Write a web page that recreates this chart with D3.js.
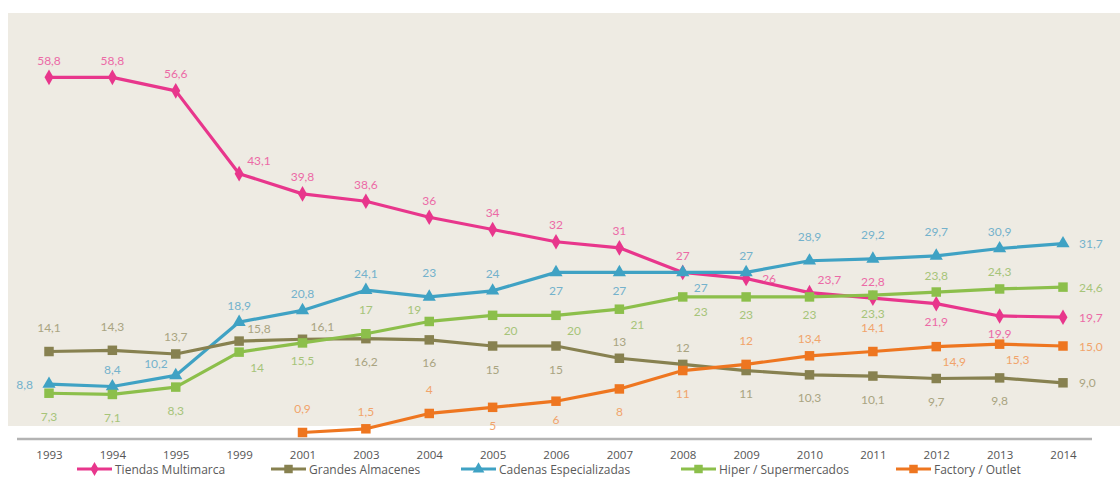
<!DOCTYPE html>
<html>
<head>
<meta charset="utf-8">
<script src="https://cdn.jsdelivr.net/npm/d3@7/dist/d3.min.js"></script>
<style>
  html, body { margin: 0; padding: 0; background: #fff; }
  svg { display: block; }
</style>
</head>
<body>
<svg id="chart" width="1120" height="477"></svg>
<script>
// Years on the horizontal axis
const years = ["1993","1994","1995","1999","2001","2003","2004","2005","2006","2007","2008","2009","2010","2011","2012","2013","2014"];

// Market share (%) by channel
const tiendasMultimarca   = [58.8, 58.8, 56.6, 43.1, 39.8, 38.6, 36, 34, 32, 31, 27, 26, 23.7, 22.8, 21.9, 19.9, 19.7];
const grandesAlmacenes    = [14.1, 14.3, 13.7, 15.8, 16.1, 16.2, 16, 15, 15, 13, 12, 11, 10.3, 10.1, 9.7, 9.8, 9.0];
const cadenasEspecial     = [8.8, 8.4, 10.2, 18.9, 20.8, 24.1, 23, 24, 27, 27, 27, 27, 28.9, 29.2, 29.7, 30.9, 31.7];
const hiperSupermercados  = [7.3, 7.1, 8.3, 14, 15.5, 17, 19, 20, 20, 21, 23, 23, 23, 23.3, 23.8, 24.3, 24.6];
const factoryOutlet       = [null, null, null, null, 0.9, 1.5, 4, 5, 6, 8, 11, 12, 13.4, 14.1, 14.9, 15.3, 15.0];

const seriesNames = ["Tiendas Multimarca", "Grandes Almacenes", "Cadenas Especializadas", "Hiper / Supermercados", "Factory / Outlet"];

// Where each value label sits relative to its point
const labelSides = {
  "Tiendas Multimarca":     ["t","t","t","tr","t","t","t","t","t","t","t","r","tr","t","b","b","r"],
  "Grandes Almacenes":      ["T","T","t","tr","tr","B","B","B","B","t","t","B","B","B","B","B","r"],
  "Cadenas Especializadas": ["l","t","tl","t","t","t","T","t","b","b","br","t","T","T","T","t","r"],
  "Hiper / Supermercados":  ["B","B","B","br","b","T","tl","br","br","br","br","b","b","b","t","t","r"],
  "Factory / Outlet":       [null,null,null,null,"T","t","T","b","b","B","B","T","t","T","br","br","r"]
};

const valuesByName = {
  "Tiendas Multimarca": tiendasMultimarca,
  "Grandes Almacenes": grandesAlmacenes,
  "Cadenas Especializadas": cadenasEspecial,
  "Hiper / Supermercados": hiperSupermercados,
  "Factory / Outlet": factoryOutlet
};

const styles = {
  "Tiendas Multimarca":     { line: "#e8368c", label: "#ec6aa6", symbol: d3.symbolDiamond, size: 70 },
  "Grandes Almacenes":      { line: "#878150", label: "#a9a481", symbol: d3.symbolSquare,  size: 90 },
  "Cadenas Especializadas": { line: "#3fa2c4", label: "#74b2cc", symbol: d3.symbolTriangle, size: 75 },
  "Hiper / Supermercados":  { line: "#8cbf4b", label: "#a6c479", symbol: d3.symbolSquare,  size: 90 },
  "Factory / Outlet":       { line: "#ee7620", label: "#f1a46b", symbol: d3.symbolSquare,  size: 90 }
};

// Drawing order (later on top)
const drawOrder = ["Tiendas Multimarca", "Cadenas Especializadas", "Grandes Almacenes", "Hiper / Supermercados", "Factory / Outlet"];

const svg = d3.select("#chart");
const W = 1120, H = 477;

// Plot background
svg.append("rect").attr("x", 0).attr("y", 0).attr("width", W).attr("height", H).attr("fill", "#ffffff");
svg.append("rect").attr("x", 8).attr("y", 13).attr("width", W - 8).attr("height", 413).attr("fill", "#eeebe3");

const x = d3.scalePoint().domain(years).range([49, 1063]);
const y = d3.scaleLinear().domain([0, 60]).range([438, 70]);

// Baseline
svg.append("line")
  .attr("x1", 17).attr("x2", 1092)
  .attr("y1", 439).attr("y2", 439)
  .attr("stroke", "#b3b3b3").attr("stroke-width", 2.5);

// Year labels
const xAxis = d3.axisBottom(x).tickSize(0).tickPadding(0);
const gx = svg.append("g").attr("transform", "translate(0,451)").call(xAxis);
gx.select(".domain").remove();
gx.selectAll("text")
  .attr("font-family", "'Open Sans', Lato, sans-serif")
  .attr("font-size", 11.5)
  .attr("fill", "#555555");

const fmtNum = (v, isLast) => {
  const s = (isLast || !Number.isInteger(v)) ? d3.format(".1f")(v) : String(v);
  return s.replace(".", ",");
};

const offsets = {
  t:  { dx: 0,   dy: -17, anchor: "middle" },
  T:  { dx: 0,   dy: -24, anchor: "middle" },
  b:  { dx: 0,   dy: 18,  anchor: "middle" },
  B:  { dx: 0,   dy: 23,  anchor: "middle" },
  r:  { dx: 16,  dy: 0,   anchor: "start" },
  l:  { dx: -16, dy: 0,   anchor: "end" },
  tr: { dx: 8,   dy: -13, anchor: "start" },
  tl: { dx: -8,  dy: -12, anchor: "end" },
  br: { dx: 18,  dy: 15,  anchor: "middle" }
};

const line = d3.line()
  .defined(d => d.v != null)
  .x(d => x(d.year))
  .y(d => y(d.v));

const labelLayer = svg.append("g");
const markLayer = svg.append("g");

drawOrder.forEach(name => {
  const vals = valuesByName[name];
  const st = styles[name];
  const pts = years.map((yr, i) => ({ year: yr, v: vals[i], i, side: labelSides[name][i] }));
  const g = markLayer.append("g");

  g.append("path")
    .datum(pts)
    .attr("d", line)
    .attr("fill", "none")
    .attr("stroke", st.line)
    .attr("stroke-width", 3.2)
    .attr("stroke-linejoin", "round");

  const valid = pts.filter(d => d.v != null);
  g.selectAll("path.mk")
    .data(valid)
    .join("path")
    .attr("class", "mk")
    .attr("d", d3.symbol().type(st.symbol).size(st.size))
    .attr("transform", d => `translate(${x(d.year)},${y(d.v)})`)
    .attr("fill", st.line);

  labelLayer.selectAll(null)
    .data(valid)
    .join("text")
    .attr("x", d => x(d.year) + offsets[d.side].dx)
    .attr("y", d => y(d.v) + offsets[d.side].dy)
    .attr("text-anchor", d => offsets[d.side].anchor)
    .attr("dominant-baseline", "central")
    .attr("font-family", "Lato, 'Liberation Sans', sans-serif")
    .attr("font-size", 12)
    .attr("fill", st.label)
    .text(d => fmtNum(d.v, d.i === years.length - 1));
});

// Legend
const legendX = [77, 271, 461, 681, 896];
const legend = svg.append("g").attr("transform", "translate(0,469)");
seriesNames.forEach((name, i) => {
  const st = styles[name];
  const g = legend.append("g").attr("transform", `translate(${legendX[i]},0)`);
  g.append("line").attr("x1", 0).attr("x2", 35).attr("y1", 0).attr("y2", 0)
    .attr("stroke", st.line).attr("stroke-width", 3);
  g.append("path").attr("d", d3.symbol().type(st.symbol).size(st.size * 0.8))
    .attr("transform", "translate(17.5,0)").attr("fill", st.line);
  g.append("text").attr("x", 38).attr("y", 0)
    .attr("dominant-baseline", "central")
    .attr("font-family", "'Open Sans', Lato, sans-serif")
    .attr("font-size", 12)
    .attr("fill", "#5a5a5a")
    .text(name);
});
</script>
</body>
</html>
